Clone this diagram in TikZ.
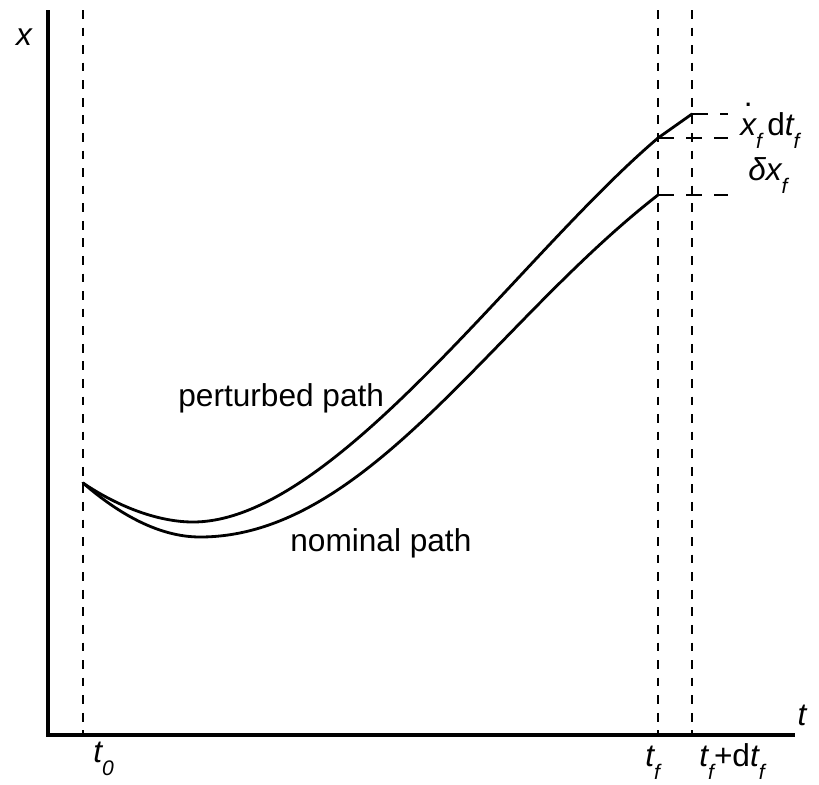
\documentclass[tikz,border=0pt]{standalone}
\usepackage{fontspec}
\setmainfont{Liberation Sans}
\usetikzlibrary{positioning}
\newcommand{\lowsub}[1]{\raisebox{-7.5pt}{\fontsize{12}{12}\selectfont\itshape #1}}
\newcommand{\xdotsym}{{\ooalign{\itshape x\cr\hidewidth\raisebox{0.9em}{\upshape.}\hidewidth\cr}}}

\begin{document}
\begin{tikzpicture}[
  x=0.02cm, y=-0.02cm,
  axis/.style={line width=1.9pt},
  guide/.style={line width=0.6pt, dash pattern=on 5pt off 5pt},
  trajectory/.style={line width=1.6pt, line join=round, line cap=round},
  offset/.style={line width=1.4pt, dash pattern=on 9pt off 7pt},
  lbl/.style={font=\fontsize{18}{20}\selectfont, inner sep=0pt}]
  \useasboundingbox (0,0) rectangle (819,785);
  % axes
  \coordinate (top) at (48,10);
  \coordinate (origin) at (48,735);
  \coordinate (tend) at (795,735);
  \draw[axis] (top) -- (origin) -- (tend);
  % vertical guides
  \foreach \xx in {83,658,692}
    \draw[guide] (\xx,10) -- (\xx,735);
  % paths
  \coordinate (start) at (83,483);
  \coordinate (ptf) at (658,138);
  \coordinate (pend) at (692,114);
  \coordinate (nend) at (658,195);
  \draw[trajectory] (start) .. controls (120,508) and (160,522) .. (193,522)
    .. controls (334,522) and (517,258) .. (ptf) -- (pend);
  \draw[trajectory] (start) .. controls (120,515) and (160,537) .. (200,537)
    .. controls (367,537) and (491,325) .. (nend);
  \draw[offset] (pend) -- (728,114);
  \draw[offset] (ptf) -- (728,138);
  \draw[offset] (nend) -- (728,195);
  % labels
  \node[lbl, anchor=base] (xname) at (24,45) {\itshape x};
  \node[lbl, anchor=base] (tname) at (802,725) {\itshape t};
  \node[lbl, anchor=base west] (tzero) at (93,762) {\itshape t\lowsub{0}};
  \node[lbl, anchor=base west] (tfin) at (645,766) {\itshape t\lowsub{f}};
  \node[lbl, anchor=base west] (tfindt) at (699,766) {\itshape t\lowsub{f}\upshape+d\itshape t\lowsub{f}};
  \node[lbl, anchor=base west] (xdotlbl) at (740,135) {\xdotsym\lowsub{f}\,d\itshape t\lowsub{f}};
  \node[lbl, anchor=base west] (dxlbl) at (748,180) {\itshape δx\lowsub{f}};
  \node[lbl, anchor=base west] (pert) at (178,406) {perturbed path};
  \node[lbl, anchor=base west] (nom) at (290,551) {nominal path};
\end{tikzpicture}
\end{document}
